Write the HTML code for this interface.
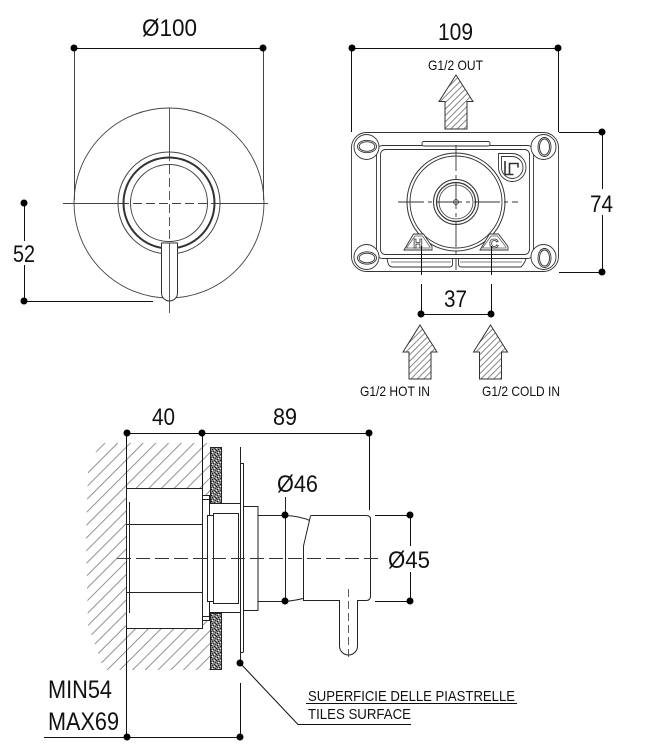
<!DOCTYPE html>
<html><head><meta charset="utf-8">
<style>
html,body{margin:0;padding:0;background:#fff;}
svg{display:block;}
text{font-family:"Liberation Sans",Arial,sans-serif;fill:#111;}
</style></head><body>
<svg width="647" height="754" viewBox="0 0 647 754" xmlns="http://www.w3.org/2000/svg">
<defs>
<pattern id="hatch" width="9" height="9" patternUnits="userSpaceOnUse" patternTransform="rotate(45)">
<line x1="0.5" y1="0" x2="0.5" y2="9" stroke="#777" stroke-width="0.8"/>
</pattern>
<pattern id="ah" width="4.5" height="4.5" patternUnits="userSpaceOnUse" patternTransform="rotate(45)">
<line x1="0.5" y1="0" x2="0.5" y2="4.5" stroke="#555" stroke-width="0.7"/>
</pattern>
<pattern id="speck" width="6" height="6" patternUnits="userSpaceOnUse">
<rect width="6" height="6" fill="#858585"/>
<rect x="0" y="0" width="1" height="1" fill="#111"/>
<rect x="3" y="1" width="1" height="1" fill="#222"/>
<rect x="1" y="3" width="1" height="1" fill="#111"/>
<rect x="4" y="4" width="1" height="1" fill="#333"/>
<rect x="5" y="2" width="1" height="1" fill="#333"/>
<rect x="2" y="5" width="1" height="1" fill="#222"/>
<rect x="5" y="5" width="1" height="1" fill="#222"/>
<rect x="1" y="1" width="1" height="1" fill="#333"/>
<rect x="4" y="0" width="1" height="1" fill="#eee"/>
<rect x="0" y="4" width="1" height="1" fill="#ddd"/>
<rect x="2" y="2" width="1" height="1" fill="#fff"/>
</pattern>
<clipPath id="wallclip">
<polygon points="100,443 210,443 210,670 104,670 88,625 86,540 88,470"/>
</clipPath>
</defs>

<!-- ================= TOP-LEFT VIEW ================= -->
<g stroke="#111" stroke-width="1" fill="none">
<line x1="74" y1="48.5" x2="263" y2="48.5"/>
<line x1="74.5" y1="48" x2="74.5" y2="200" stroke="#444"/>
<line x1="263.5" y1="48" x2="263.5" y2="200" stroke="#444"/>
</g>
<circle cx="74" cy="48" r="3.5" fill="#000"/>
<circle cx="263" cy="48" r="3.5" fill="#000"/>
<text x="142" y="36" font-size="24" textLength="55" lengthAdjust="spacingAndGlyphs">Ø100</text>

<g stroke="#444" fill="none">
<circle cx="169" cy="203" r="95" stroke-width="0.9"/>
<line x1="63" y1="203.5" x2="120" y2="203.5" stroke-width="0.9"/>
<line x1="120" y1="203.5" x2="218" y2="203.5" stroke-width="0.9" stroke-dasharray="9 4"/>
<line x1="218" y1="203.5" x2="268" y2="203.5" stroke-width="0.9"/>
<line x1="169.5" y1="108" x2="169.5" y2="152" stroke-width="0.9"/>
<line x1="169.5" y1="152" x2="169.5" y2="243" stroke-width="0.9" stroke-dasharray="9 4"/>
<circle cx="169" cy="203" r="51" stroke-width="1"/>
<circle cx="169" cy="203" r="45.5" stroke-width="2" stroke="#333"/>
<circle cx="169" cy="203" r="38.5" stroke-width="1"/>
</g>
<path d="M161.5,243 V293 A8,8 0 0 0 177.5,293 V243 Z" fill="#fff" stroke="#333" stroke-width="1"/>
<line x1="169.5" y1="243" x2="169.5" y2="313" stroke="#444" stroke-width="0.9"/>
<!-- 52 dim -->
<g stroke="#111" stroke-width="1">
<line x1="24.5" y1="203" x2="24.5" y2="301"/>
<line x1="24" y1="301.5" x2="153" y2="301.5"/>
</g>
<rect x="10" y="241" width="28" height="24" fill="#fff"/>
<circle cx="24" cy="203" r="3.5" fill="#000"/>
<circle cx="24" cy="301" r="3.5" fill="#000"/>
<text x="13" y="262" font-size="24" textLength="22" lengthAdjust="spacingAndGlyphs">52</text>

<!-- ================= TOP-RIGHT VIEW ================= -->
<g stroke="#111" stroke-width="1" fill="none">
<line x1="352" y1="48.5" x2="558" y2="48.5"/>
<line x1="351.5" y1="48" x2="351.5" y2="132"/>
<line x1="558.5" y1="48" x2="558.5" y2="132"/>
<line x1="559" y1="132.5" x2="602" y2="132.5"/>
<line x1="559" y1="272.5" x2="602" y2="272.5"/>
<line x1="602.5" y1="132" x2="602.5" y2="272"/>
</g>
<circle cx="352" cy="48" r="3.5" fill="#000"/>
<circle cx="558" cy="48" r="3.5" fill="#000"/>
<circle cx="602" cy="132" r="3.5" fill="#000"/>
<circle cx="602" cy="272" r="3.5" fill="#000"/>
<rect x="588" y="189" width="28" height="26" fill="#fff"/>
<text x="590" y="212" font-size="24" textLength="23" lengthAdjust="spacingAndGlyphs">74</text>
<text x="438" y="40" font-size="24" textLength="35" lengthAdjust="spacingAndGlyphs">109</text>
<text x="428" y="70" font-size="14" textLength="55" lengthAdjust="spacingAndGlyphs">G1/2 OUT</text>
<path d="M456,75 L473,101.5 L467,101.5 L467,129 L445,129 L445,101.5 L439,101.5 Z" fill="url(#ah)" stroke="#333" stroke-width="1"/>

<!-- box -->
<g stroke="#333" stroke-width="0.9" fill="none">
<rect x="351.5" y="132.5" width="207" height="139" rx="15"/>
<rect x="376.5" y="145.5" width="157" height="113" rx="6"/>
<rect x="380.5" y="149.5" width="149" height="105" rx="5"/>
<rect x="422" y="141.5" width="68" height="4.5" rx="2" fill="#fff"/>
</g>
<g stroke="#333" stroke-width="0.9" fill="#fff">
<circle cx="366.5" cy="147" r="12.5"/>
<circle cx="543.5" cy="147" r="12.5"/>
<circle cx="366.5" cy="257" r="12.5"/>
<circle cx="543.5" cy="257" r="12.5"/>
<ellipse cx="367" cy="146.5" rx="9.5" ry="6.2"/>
<ellipse cx="367" cy="146.5" rx="7.8" ry="4.8"/>
<ellipse cx="544.5" cy="147" rx="6.5" ry="9.5"/>
<ellipse cx="544.5" cy="147" rx="5" ry="8"/>
<ellipse cx="367" cy="258" rx="9.5" ry="6.2"/>
<ellipse cx="367" cy="258" rx="7.8" ry="4.8"/>
<ellipse cx="544.5" cy="258" rx="6.5" ry="9.5"/>
<ellipse cx="544.5" cy="258" rx="5" ry="8"/>
</g>
<!-- bottom tabs -->
<g stroke="#333" stroke-width="0.9" fill="#fff">
<path d="M387,258.5 H452.5 V264 Q452.5,267 449.5,267 H393 Q389,267 388,263 Z"/>
<path d="M458.5,258.5 H526 Q525,263 521,267 H461.5 Q458.5,267 458.5,264 Z"/>
</g>
<g stroke="#555" stroke-width="0.7">
<line x1="391" y1="262" x2="451" y2="262"/>
<line x1="460" y1="262" x2="522" y2="262"/>
</g>
<!-- circles -->
<g stroke="#333" fill="none">
<circle cx="456" cy="202" r="49" stroke-width="1"/>
<circle cx="456" cy="202" r="46" stroke-width="0.9"/>
<circle cx="456" cy="202" r="22.5" stroke-width="1"/>
<circle cx="456" cy="202" r="19.5" stroke-width="1.2"/>
<circle cx="456" cy="202" r="17" stroke-width="0.8"/>
<circle cx="456" cy="202" r="2.5" stroke-width="0.8"/>
<line x1="398" y1="202" x2="518" y2="202" stroke-width="0.9" stroke-dasharray="26 4 4 4"/>
<line x1="456" y1="145" x2="456" y2="270" stroke-width="0.9" stroke-dasharray="26 4 4 4"/>
</g>
<!-- H / C marks -->
<g stroke="#333" stroke-width="0.9" fill="#fff">
<polygon points="404,250 413.5,234 423.5,234 432,246.5 432,250"/>
<polygon points="480,250 489.5,234 498.5,234 508,246.5 508,250"/>
</g>
<g stroke="#555" stroke-width="0.7" fill="none">
<polygon points="406.5,248 415,236 422.5,236 430,247 430,248"/>
<polygon points="482.5,248 491,236 497.5,236 506,247 506,248"/>
</g>
<text x="418" y="248" font-size="13" font-weight="bold" text-anchor="middle" style="fill:#fff;stroke:#333;stroke-width:0.8">H</text>
<text x="494" y="248" font-size="13" font-weight="bold" text-anchor="middle" style="fill:#fff;stroke:#333;stroke-width:0.8">C</text>
<!-- logo -->
<g stroke="#333" stroke-width="0.9" fill="none">
<path d="M498.5,153.5 H512 A14,14 0 0 1 512,181.5 A14,14 0 0 1 498.5,167.5 Z" fill="#fff"/>
<path d="M501.5,156.5 H512 A11,11 0 0 1 512,178.5 A11,11 0 0 1 501.5,167.5 Z"/>
<path d="M505,161 V174.5 H513.5" stroke-width="1.6"/>
<path d="M509.5,174 V163.5 H518 V167.5" stroke-width="1.6"/>
</g>
<!-- 37 dim -->
<g stroke="#111" stroke-width="1">
<line x1="421.5" y1="246" x2="421.5" y2="275"/>
<line x1="421.5" y1="284" x2="421.5" y2="314"/>
<line x1="491.5" y1="246" x2="491.5" y2="275"/>
<line x1="491.5" y1="284" x2="491.5" y2="314"/>
<line x1="421" y1="314.5" x2="491" y2="314.5"/>
</g>
<circle cx="421" cy="314" r="3.5" fill="#000"/>
<circle cx="491" cy="314" r="3.5" fill="#000"/>
<text x="444" y="307" font-size="24" textLength="23" lengthAdjust="spacingAndGlyphs">37</text>
<path d="M420,325 L437,352 L431,352 L431,379 L409,379 L409,352 L403,352 Z" fill="url(#ah)" stroke="#333" stroke-width="1"/>
<path d="M490.5,325 L507.5,352 L501.5,352 L501.5,379 L479.5,379 L479.5,352 L473.5,352 Z" fill="url(#ah)" stroke="#333" stroke-width="1"/>
<text x="360" y="396" font-size="14" textLength="70" lengthAdjust="spacingAndGlyphs">G1/2 HOT IN</text>
<text x="482" y="396" font-size="14" textLength="78" lengthAdjust="spacingAndGlyphs">G1/2 COLD IN</text>

<!-- ================= SIDE VIEW ================= -->
<rect x="80" y="440" width="135" height="235" fill="url(#hatch)" clip-path="url(#wallclip)"/>
<g stroke="#111" stroke-width="1" fill="none">
<line x1="127" y1="433.5" x2="369" y2="433.5"/>
<line x1="126.5" y1="433" x2="126.5" y2="488"/>
<line x1="126.5" y1="628" x2="126.5" y2="737"/>
<line x1="202.5" y1="433" x2="202.5" y2="488"/>
<line x1="369.5" y1="433" x2="369.5" y2="510"/>
</g>
<circle cx="127" cy="433" r="3.5" fill="#000"/>
<circle cx="202" cy="433" r="3.5" fill="#000"/>
<circle cx="369" cy="433" r="3.5" fill="#000"/>
<text x="152" y="425" font-size="24" textLength="23" lengthAdjust="spacingAndGlyphs">40</text>
<text x="273" y="425" font-size="24" textLength="24" lengthAdjust="spacingAndGlyphs">89</text>

<!-- tiles -->
<rect x="210.5" y="447.5" width="11" height="56" fill="url(#speck)" stroke="#222" stroke-width="1"/>
<rect x="210.5" y="613.5" width="11" height="56" fill="url(#speck)" stroke="#222" stroke-width="1"/>

<g stroke="#222" stroke-width="1" fill="#fff">
<rect x="126.5" y="488.5" width="76" height="140"/>
<rect x="202.5" y="495.5" width="7" height="4"/>
<rect x="202.5" y="616.5" width="7" height="4"/>
<rect x="202.5" y="499.5" width="7" height="117"/>
<rect x="207.5" y="515.5" width="6" height="86"/>
<rect x="213.5" y="513.5" width="25" height="90"/>
<rect x="243.5" y="506.5" width="14.5" height="104"/>
</g>
<g stroke="#222" stroke-width="1" fill="none">
<line x1="126" y1="524.5" x2="202" y2="524.5"/>
<line x1="126" y1="592.5" x2="202" y2="592.5"/>
<line x1="129.5" y1="502" x2="129.5" y2="613"/>
<line x1="209" y1="503.5" x2="240" y2="503.5"/>
<line x1="209" y1="612.5" x2="240" y2="612.5"/>
<line x1="240.5" y1="447" x2="240.5" y2="662"/>
<line x1="243.5" y1="463" x2="243.5" y2="652"/>
<line x1="240" y1="652.5" x2="243.5" y2="652.5"/>
<line x1="240" y1="463.5" x2="243.5" y2="463.5"/>
<line x1="258" y1="515.5" x2="285" y2="515.5"/>
<line x1="258" y1="601.5" x2="285" y2="601.5"/>
<line x1="285.5" y1="497" x2="285.5" y2="601"/>
<path d="M285,515.5 Q300,516 311,521"/>
<path d="M285,601.5 Q295,600.5 303,598.5"/>
<path d="M311,515.5 H366 Q370.5,515.5 370.5,519 V596 Q370.5,600.5 366,600.5 H303.5 V546 L310,518 Q310.5,515.5 311,515.5 Z" fill="#fff"/>
<path d="M339.5,600 V646 A9,9 0 0 0 357.5,646 V600" fill="#fff"/>
</g>
<line x1="117" y1="558.5" x2="378" y2="558.5" stroke="#333" stroke-width="0.9" stroke-dasharray="14 5"/>
<line x1="348.5" y1="589" x2="348.5" y2="657" stroke="#333" stroke-width="0.8" stroke-dasharray="8 4"/>
<circle cx="285" cy="515" r="3.5" fill="#000"/>
<circle cx="285" cy="601" r="3.5" fill="#000"/>
<text x="277" y="492" font-size="24" textLength="41" lengthAdjust="spacingAndGlyphs">Ø46</text>

<!-- Ø45 -->
<g stroke="#111" stroke-width="1">
<line x1="375" y1="515.5" x2="410" y2="515.5"/>
<line x1="375" y1="601.5" x2="410" y2="601.5"/>
<line x1="410.5" y1="515" x2="410.5" y2="601"/>
</g>
<rect x="386" y="546" width="46" height="26" fill="#fff"/>
<circle cx="410" cy="515" r="3.5" fill="#000"/>
<circle cx="410" cy="601" r="3.5" fill="#000"/>
<text x="388" y="568" font-size="24" textLength="42" lengthAdjust="spacingAndGlyphs">Ø45</text>

<!-- MIN/MAX -->
<g stroke="#111" stroke-width="1" fill="none">
<line x1="44" y1="737.5" x2="240" y2="737.5"/>
<line x1="240.5" y1="683" x2="240.5" y2="737"/>
<path d="M240,663 L298,724.5 H411"/>
<line x1="306" y1="703.5" x2="517" y2="703.5"/>
</g>
<circle cx="127" cy="737" r="3.5" fill="#000"/>
<circle cx="240" cy="737" r="3.5" fill="#000"/>
<circle cx="240" cy="663" r="3.5" fill="#000"/>
<text x="48" y="698" font-size="25" textLength="64" lengthAdjust="spacingAndGlyphs">MIN54</text>
<text x="48" y="730" font-size="25" textLength="71" lengthAdjust="spacingAndGlyphs">MAX69</text>
<text x="308" y="701" font-size="15" textLength="207" lengthAdjust="spacingAndGlyphs">SUPERFICIE DELLE PIASTRELLE</text>
<text x="308" y="719" font-size="15" textLength="103" lengthAdjust="spacingAndGlyphs">TILES SURFACE</text>
</svg>
</body></html>
